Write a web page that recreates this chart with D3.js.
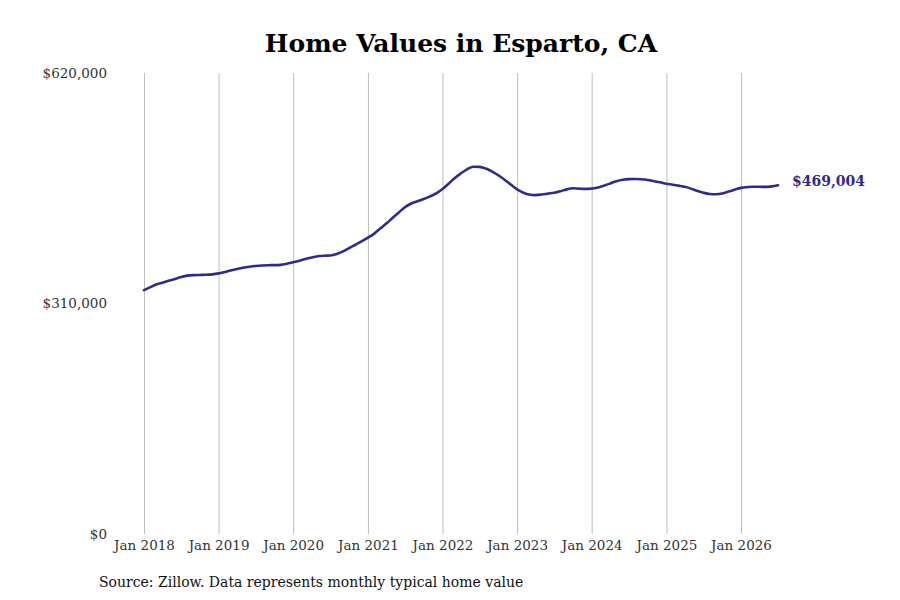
<!DOCTYPE html>
<html>
<head>
<meta charset="utf-8">
<script src="https://cdn.jsdelivr.net/npm/d3@7"></script>
<style>
  body { margin: 0; background: #fff; }
  svg { font-family: "DejaVu Serif", serif; }
</style>
</head>
<body>
<svg width="900" height="600"></svg>
<script>
// Monthly typical home value, Jan 2018 .. Jul 2026
const startMonth = "2018-01";
const values = [
  328000, 332000, 335500, 338000, 340500, 343000, 345500, 347500, 348200, 348400, 348600, 349200,
  350500, 352500, 354500, 356500, 358200, 359500, 360500, 361200, 361500, 361600, 362000, 363500,
  365500, 367500, 369800, 372000, 373500, 374200, 374500, 376500, 380000, 384500, 389000, 393500,
  398500, 404000, 410500, 417500, 425000, 432500, 439500, 444500, 447500, 450500, 454000, 458000,
  464000, 471500, 478500, 485000, 490500, 494000, 493800, 491500, 487500, 482500, 476500, 470000,
  463500, 459000, 456500, 455800, 456500, 457800, 459000, 461000, 463500, 465000, 464500, 464200,
  464500, 466000, 468500, 471500, 474500, 476500, 477300, 477500, 477000, 476000, 474500, 473000,
  471000, 469800, 468500, 467000, 464500, 461500, 459000, 457300, 457000, 458000, 460500, 463000,
  465500, 466500, 467000, 467000, 466800, 467500, 469004
];
const yTicks = [0, 310000, 620000];
const xTickYears = [2018, 2019, 2020, 2021, 2022, 2023, 2024, 2025, 2026];
const title = "Home Values in Esparto, CA";
const source = "Source: Zillow. Data represents monthly typical home value";

const lineColor = "#2f2b8c";
const svg = d3.select("svg");

const parse = d3.timeParse("%Y-%m");
const t0 = parse(startMonth);
const data = values.map((v, i) => ({ date: d3.timeMonth.offset(t0, i), value: v }));

const x = d3.scaleTime()
  .domain(d3.extent(data, d => d.date))
  .range([144, 778]);
const y = d3.scaleLinear()
  .domain([0, 620000])
  .range([534, 73]);

// Title
svg.append("text")
  .attr("x", 461)
  .attr("y", 52)
  .attr("text-anchor", "middle")
  .attr("font-size", "25px")
  .attr("font-weight", "bold")
  .attr("fill", "#000")
  .text(title);

// Vertical grid lines at each January
const xDates = xTickYears.map(yr => new Date(yr, 0, 1));
const xAxis = svg.append("g")
  .attr("transform", `translate(0,${y(0)})`)
  .call(d3.axisBottom(x)
    .tickValues(xDates)
    .tickSize(-(y(0) - y(620000)))
    .tickPadding(6)
    .tickFormat(d3.timeFormat("Jan %Y")));
xAxis.select(".domain").remove();
xAxis.selectAll(".tick line").attr("stroke", "#bdbdbd").attr("stroke-width", 1);
xAxis.selectAll(".tick text")
  .attr("font-family", "DejaVu Serif")
  .attr("font-size", "13.5px")
  .attr("fill", "#333");

// Y labels
const yAxis = svg.append("g")
  .attr("transform", "translate(107,0)")
  .call(d3.axisLeft(y)
    .tickValues(yTicks)
    .tickSize(0)
    .tickPadding(0)
    .tickFormat(d => "$" + d3.format(",")(d)));
yAxis.select(".domain").remove();
yAxis.selectAll(".tick text")
  .attr("font-family", "DejaVu Serif")
  .attr("font-size", "13.5px")
  .attr("fill", "#333");

// Line
const line = d3.line()
  .x(d => x(d.date))
  .y(d => y(d.value))
  .curve(d3.curveMonotoneX);

svg.append("path")
  .datum(data)
  .attr("fill", "none")
  .attr("stroke", lineColor)
  .attr("stroke-width", 2.6)
  .attr("stroke-linejoin", "round")
  .attr("stroke-linecap", "round")
  .attr("d", line);

// End label
const last = data[data.length - 1];
svg.append("text")
  .attr("x", x(last.date) + 14)
  .attr("y", y(last.value) - 4)
  .attr("dy", "0.35em")
  .attr("font-size", "14px")
  .attr("font-weight", "bold")
  .attr("fill", lineColor)
  .text("$" + d3.format(",")(last.value));

// Source
svg.append("text")
  .attr("x", 99)
  .attr("y", 587)
  .attr("font-size", "14px")
  .attr("fill", "#111")
  .text(source);
</script>
</body>
</html>
